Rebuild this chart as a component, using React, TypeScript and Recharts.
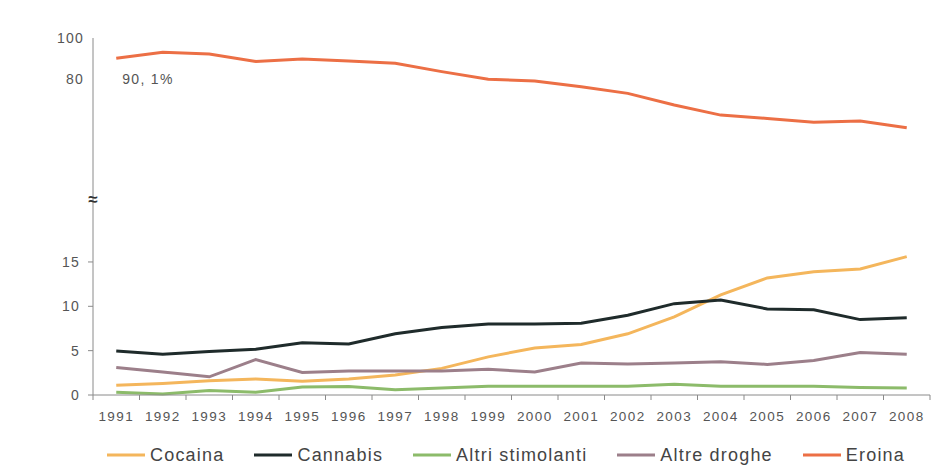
import { Legend, LabelList, Line, LineChart, XAxis, YAxis } from 'recharts';

const years = ['1991', '1992', '1993', '1994', '1995', '1996', '1997', '1998', '1999', '2000', '2001', '2002', '2003', '2004', '2005', '2006', '2007', '2008'];
const cocaina = [1.1, 1.3, 1.6, 1.8, 1.55, 1.8, 2.25, 3.0, 4.3, 5.3, 5.7, 6.9, 8.8, 11.3, 13.2, 13.9, 14.2, 15.6];
const cannabis = [4.95, 4.6, 4.9, 5.15, 5.9, 5.75, 6.9, 7.6, 8.0, 8.0, 8.1, 9.0, 10.3, 10.7, 9.7, 9.6, 8.5, 8.7];
const altriStimolanti = [0.3, 0.1, 0.5, 0.3, 0.9, 0.95, 0.6, 0.8, 1.0, 1.0, 1.0, 1.0, 1.2, 1.0, 1.0, 1.0, 0.85, 0.8];
const altreDroghe = [3.1, 2.6, 2.05, 4.0, 2.55, 2.7, 2.7, 2.7, 2.9, 2.6, 3.6, 3.5, 3.6, 3.75, 3.45, 3.9, 4.8, 4.6];
const eroina = [90.1, 93.0, 92.2, 88.6, 89.7, 88.8, 87.7, 83.6, 79.9, 79.0, 76.2, 73.0, 67.3, 62.4, 60.8, 58.9, 59.5, 56.2];

const lowTicks = [0, 5, 10, 15];
const highTicks = [80, 100];
// where the "≈" break mark sits, in lower-scale units
const BREAK_AT = 22;

// broken axis: both scales share the same plot height
const LOW_DOMAIN: [number, number] = [0, 40.25];
const HIGH_DOMAIN: [number, number] = [-74.1, 100];

const series = [
  { key: 'cocaina', name: 'Cocaina', color: '#f4b65c', axis: 'low' },
  { key: 'cannabis', name: 'Cannabis', color: '#1f2b2b', axis: 'low' },
  { key: 'altri', name: 'Altri stimolanti', color: '#8cbb6a', axis: 'low' },
  { key: 'altre', name: 'Altre droghe', color: '#9c7f8a', axis: 'low' },
  { key: 'eroina', name: 'Eroina', color: '#ec6f45', axis: 'high' },
];

const data = years.map((year, i) => ({
  year,
  cocaina: cocaina[i],
  cannabis: cannabis[i],
  altri: altriStimolanti[i],
  altre: altreDroghe[i],
  eroina: eroina[i],
}));

const highToLow = (v: number) => ((v - HIGH_DOMAIN[0]) / (HIGH_DOMAIN[1] - HIGH_DOMAIN[0])) * LOW_DOMAIN[1];
const axisTicks = [...lowTicks, BREAK_AT, ...highTicks.map(highToLow)];

const W = 936;
const H = 458;
const M = { top: 30, right: 14, left: 0, bottom: 0 };
const Y_AXIS_W = 85;
const PLOT_W = W - M.left - M.right - Y_AXIS_W;
const BAND = PLOT_W / years.length;

const FONT = '"Liberation Sans", Arial, sans-serif';
const TEXT = '#555';
const AXIS = '#8a8a8a';

function YTick(props: any) {
  const { x, y, payload } = props;
  const v = payload.value as number;
  if (Math.abs(v - BREAK_AT) < 1e-6) {
    return (
      <text x={x} y={y} dy={5} textAnchor="middle" fontSize={17} fontWeight="bold" fill="#333" fontFamily={FONT}>
        ≈
      </text>
    );
  }
  const hi = highTicks.find((t) => Math.abs(highToLow(t) - v) < 1e-6);
  if (hi !== undefined) {
    return (
      <text x={x - 9} y={y} dy={5} textAnchor="end" fontSize={14} letterSpacing={1.2} fill={TEXT} fontFamily={FONT}>
        {hi}
      </text>
    );
  }
  return (
    <g>
      <line x1={x - 5} x2={x} y1={y} y2={y} stroke={AXIS} />
      <text x={x - 13} y={y} dy={5} textAnchor="end" fontSize={14} letterSpacing={1.2} fill={TEXT} fontFamily={FONT}>
        {v}
      </text>
    </g>
  );
}

function XTick(props: any) {
  const { x, y, payload, index } = props;
  return (
    <g>
      <line x1={x - BAND / 2} x2={x - BAND / 2} y1={y} y2={y + 5} stroke={AXIS} />
      {index === years.length - 1 && <line x1={x + BAND / 2} x2={x + BAND / 2} y1={y} y2={y + 5} stroke={AXIS} />}
      <text x={x} y={y} dy={26} textAnchor="middle" fontSize={13.5} letterSpacing={1.4} fill={TEXT} fontFamily={FONT}>
        {payload.value}
      </text>
    </g>
  );
}

function FirstLabel(props: any) {
  const { x, y, value, index } = props;
  if (index !== 0) return null;
  return (
    <text x={x + 6} y={y + 26} fontSize={14} letterSpacing={1.3} fill={TEXT} fontFamily={FONT}>
      {String(value).replace('.', ', ')}%
    </text>
  );
}

function LegendRow() {
  return (
    <div style={{ display: 'flex', alignItems: 'center', height: 22, paddingLeft: 99, gap: 30, fontFamily: FONT }}>
      {series.map((s) => (
        <div key={s.key} style={{ display: 'flex', alignItems: 'center', gap: 5 }}>
          <svg width={38} height={4}>
            <line x1={0} x2={38} y1={2} y2={2} stroke={s.color} strokeWidth={3} />
          </svg>
          <span style={{ fontSize: 18, letterSpacing: 1.2, color: '#444' }}>{s.name}</span>
        </div>
      ))}
    </div>
  );
}

export default function App() {
  return (
    <div style={{ background: '#fff' }}>
      <LineChart width={W} height={H} data={data} margin={M}>
        <XAxis
          dataKey="year"
          height={49}
          padding={{ left: BAND / 2, right: BAND / 2 }}
          stroke={AXIS}
          tickLine={false}
          tickSize={0}
          tickMargin={0}
          interval={0}
          tick={<XTick />}
        />
        <YAxis yAxisId="high" hide width={0} domain={HIGH_DOMAIN} />
        <YAxis
          yAxisId="low"
          width={Y_AXIS_W}
          domain={LOW_DOMAIN}
          ticks={axisTicks}
          interval={0}
          stroke={AXIS}
          tickLine={false}
          tickSize={0}
          tickMargin={0}
          tick={<YTick />}
        />
        <Legend verticalAlign="bottom" height={22} content={<LegendRow />} />
        {series.map((s) => (
          <Line
            key={s.key}
            yAxisId={s.axis}
            dataKey={s.key}
            name={s.name}
            type="linear"
            stroke={s.color}
            strokeWidth={3}
            dot={false}
            activeDot={false}
            isAnimationActive={false}
          >
            {s.key === 'eroina' && <LabelList dataKey="eroina" content={<FirstLabel />} />}
          </Line>
        ))}
      </LineChart>
    </div>
  );
}
